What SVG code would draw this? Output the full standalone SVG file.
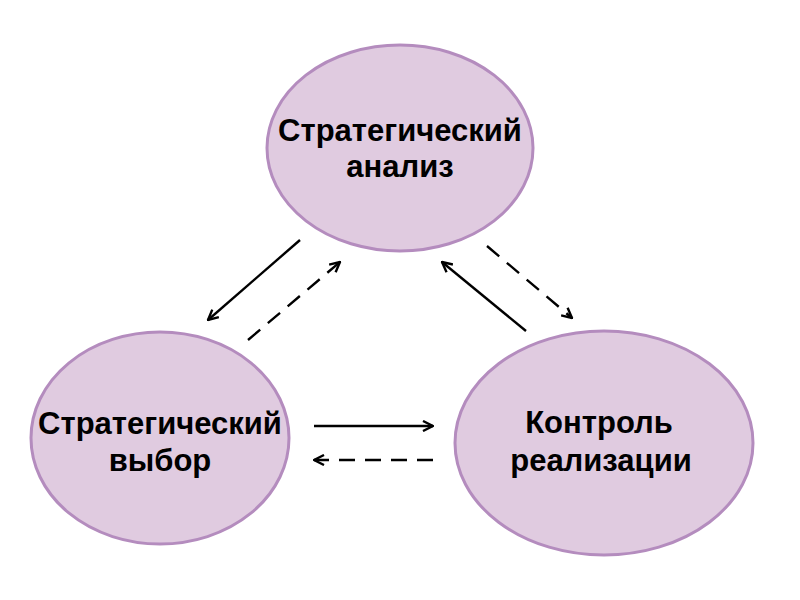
<svg xmlns="http://www.w3.org/2000/svg" width="800" height="600" viewBox="0 0 800 600">
<style>
.node{fill:#e0cbe0;stroke:#b48cbe;stroke-width:3}
.lbl{font-family:"Liberation Sans",Arial,sans-serif;font-weight:bold;font-size:31px;fill:#000;text-anchor:middle}
.c{stroke:#000;stroke-width:2.4;fill:none;marker-end:url(#ah)}
.d{stroke-dasharray:16 10}
</style>
<defs>
<marker id="ah" viewBox="0 0 12 12" refX="11" refY="6" markerWidth="12" markerHeight="12" markerUnits="userSpaceOnUse" orient="auto">
<path d="M1,1 L11,6 L1,11" fill="none" stroke="#000" stroke-width="2.4"/>
</marker>
</defs>
<rect width="800" height="600" fill="#fff"/>
<g id="analysis">
<ellipse class="node" cx="400" cy="148" rx="133" ry="103"/>
<text class="lbl" x="400" y="141">Стратегический</text>
<text class="lbl" x="400" y="177">анализ</text>
</g>
<g id="choice">
<ellipse class="node" cx="160" cy="438" rx="129" ry="106"/>
<text class="lbl" x="160" y="434">Стратегический</text>
<text class="lbl" x="160" y="471">выбор</text>
</g>
<g id="control">
<ellipse class="node" cx="604" cy="443" rx="149" ry="112"/>
<text class="lbl" x="599" y="433">Контроль</text>
<text class="lbl" x="601" y="471">реализации</text>
</g>
<g id="connectors">
<line class="c" x1="300" y1="240" x2="208" y2="320"/>
<line class="c d" x1="248" y1="340" x2="340" y2="262"/>
<line class="c" x1="526" y1="331" x2="442" y2="262"/>
<line class="c d" x1="487" y1="246" x2="572" y2="318"/>
<line class="c" x1="314" y1="426" x2="433" y2="426"/>
<line class="c d" x1="433" y1="460" x2="314" y2="460"/>
</g>
</svg>
